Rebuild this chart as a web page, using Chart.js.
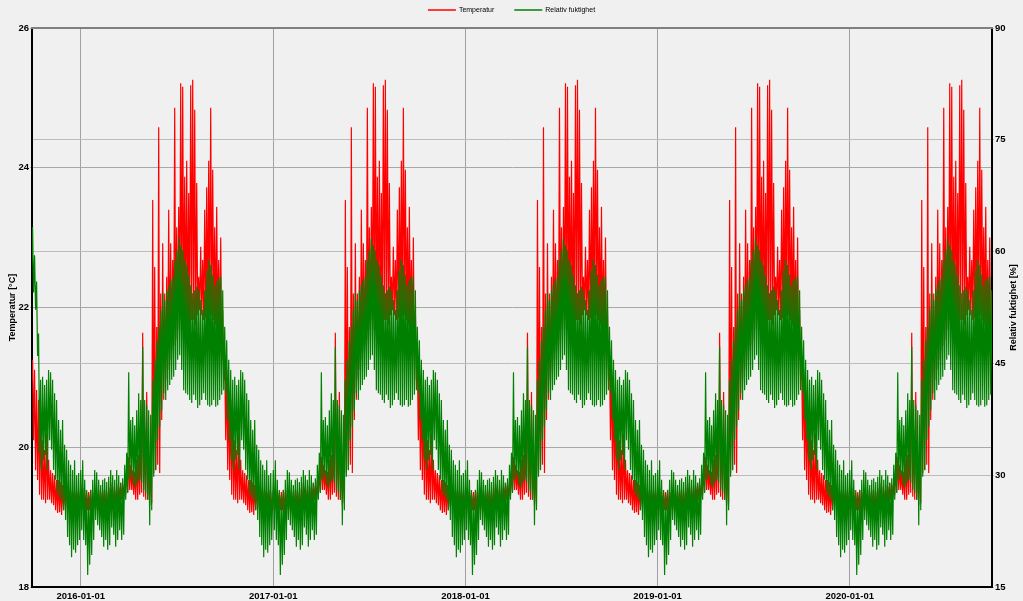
<!DOCTYPE html>
<html><head><meta charset="utf-8">
<script src="https://cdn.jsdelivr.net/npm/chart.js@4.4.1/dist/chart.umd.min.js"></script>
<style>html,body{margin:0;padding:0;background:#f0f0f0;}#wrap{width:1023px;height:601px;position:relative;}</style>
</head><body><div id="wrap"><canvas id="c"></canvas></div>
<script>
const seriesNames = ['Temperatur', 'Relativ fuktighet'];
const axisTitles = ['Temperatur [°C]', 'Relativ fuktighet [%]'];
const xTickLabels = ['2016-01-01', '2017-01-01', '2018-01-01', '2019-01-01', '2020-01-01'];
const years = [2015, 2016, 2017, 2018, 2019, 2020];
const rangeStart = '2015-09-30T12:00:00Z';
const rangeEnd = '2020-09-27T07:00:00Z';
const tempRange = [18, 26], tempStep = 2;
const humRange = [15, 90], humStep = 15;
// readings repeat every year; one reading pair (upper / lower edge) about every 3.8 days from 1 Jan
const DAY_STEP = 1.9;
const tempUpper = [19.39,19.42,19.39,19.35,19.36,19.39,19.36,19.39,19.32,19.39,
 19.36,19.39,19.39,19.36,19.42,19.49,19.43,19.39,19.46,19.43,
 19.49,19.46,19.53,19.67,19.86,19.75,19.67,19.65,19.82,19.89,
 20.06,21.64,20.25,20.79,19.82,19.75,23.54,22.58,21.72,24.58,
 22.20,22.92,22.20,22.44,23.40,22.92,22.68,24.86,23.15,23.44,
 25.21,25.16,23.87,24.10,23.64,25.18,25.26,24.83,23.78,22.44,
 22.87,22.68,23.40,23.72,24.10,24.86,23.97,23.15,23.44,22.68,
 23.00,21.96,21.25,21.11,20.82,20.68,20.53,20.10,19.96,20.20,
 19.82,19.67,19.63,19.60,19.53,19.53,19.50,19.46,19.43,19.46,
 19.42,19.39,19.39,19.36,19.39,19.36];
const tempLower = [19.10,19.07,19.13,19.10,19.10,19.07,19.13,19.10,19.10,19.07,
 19.10,19.13,19.07,19.06,19.10,19.25,19.17,19.14,19.17,19.25,
 19.25,19.29,19.32,19.36,19.39,19.39,19.32,19.25,19.25,19.32,
 19.35,19.29,19.25,19.25,19.17,19.20,19.63,19.67,19.75,19.63,
 20.39,20.68,20.96,21.11,21.25,21.39,21.46,21.53,21.68,21.82,
 21.68,21.82,21.89,21.82,21.75,21.82,21.82,21.75,21.89,21.96,
 21.89,21.82,21.85,21.82,21.89,21.89,21.82,21.75,21.68,21.53,
 21.25,20.96,20.10,19.67,19.53,19.32,19.25,19.25,19.20,19.25,
 19.25,19.20,19.17,19.10,19.06,19.07,19.03,19.10,19.14,19.17,
 19.13,19.17,19.17,19.16,19.17,19.13];
const humUpper = [30.7,32.0,29.4,28.0,27.3,28.0,29.4,30.7,30.4,29.4,
 28.7,29.4,29.6,29.1,29.8,30.7,30.0,29.4,30.7,30.0,
 29.0,29.6,31.4,33.0,43.8,37.4,37.8,36.7,38.7,41.0,
 40.1,47.2,40.1,39.4,38.7,38.1,42.8,45.5,48.1,49.9,
 52.2,54.4,53.5,54.8,55.5,56.2,56.6,58.9,60.2,61.8,
 60.9,60.2,58.9,58.2,56.9,55.5,54.4,54.8,55.3,54.8,
 53.5,52.2,54.8,57.5,58.9,58.2,56.9,55.5,56.2,56.6,
 56.6,54.8,49.9,48.1,45.5,44.1,42.8,43.2,42.1,42.8,
 44.1,43.8,42.8,41.0,40.1,37.4,36.1,37.4,34.1,33.4,
 32.0,31.4,30.7,32.0,30.0,30.3];
const humLower = [22.6,21.3,20.6,16.6,18.0,19.3,21.3,24.0,23.3,22.6,
 21.7,20.4,21.3,20.0,20.6,23.0,22.0,20.4,21.3,22.6,
 21.3,22.0,26.7,27.6,29.4,29.8,28.7,28.4,29.0,29.4,
 29.0,28.0,27.6,26.7,23.3,25.3,29.8,30.7,34.7,36.5,
 38.7,41.0,40.1,41.4,42.1,42.8,43.2,44.1,45.5,46.1,
 44.1,41.4,41.0,40.8,40.1,39.7,40.8,40.1,39.0,39.4,
 40.1,41.0,40.1,39.4,39.2,39.4,40.1,39.2,39.4,40.1,
 40.8,41.4,41.0,37.4,34.7,32.0,30.7,32.0,32.7,30.7,
 34.7,33.4,30.7,29.4,27.6,27.1,26.7,25.3,24.0,21.7,
 20.6,19.0,20.0,19.6,20.6,21.3];
// the first readings (autumn 2015) were more humid than later years
const firstYear = 2015, firstCol = 71;
const firstHumUpper = [63.5, 63.3, 59.5, 56.0, 49.0];
const firstHumLower = [58.0, 54.5, 52.2, 46.0, 33.0];

const DAY = 864e5;
const t0 = Date.parse(xTickLabels[0]);
const xMin = (Date.parse(rangeStart) - t0) / DAY;
const xMax = (Date.parse(rangeEnd) - t0) / DAY;
const tickDays = xTickLabels.map(s => (Date.parse(s) - t0) / DAY);

function build(upper, lower, fixUpper, fixLower) {
  const pts = [];
  years.forEach(y => {
    const base = (Date.UTC(y, 0, 1) - t0) / DAY;
    for (let c = 0; c < upper.length; c++) {
      let u = upper[c], l = lower[c];
      if (fixUpper && y === firstYear && c >= firstCol && c < firstCol + fixUpper.length) {
        u = fixUpper[c - firstCol]; l = fixLower[c - firstCol];
      }
      const a = base + 2 * c * DAY_STEP, b = base + (2 * c + 1) * DAY_STEP;
      if (a >= xMin - 4 && a <= xMax + 4) pts.push({x: a, y: u});
      if (b >= xMin - 4 && b <= xMax + 4) pts.push({x: b, y: l});
    }
  });
  return pts;
}

const FONT = '"Liberation Sans", Arial, sans-serif';
const tickFont = {family: FONT, size: 9.5, weight: 'bold'};

const decor = {
  id: 'decor',
  afterDraw(chart) {
    const {ctx, chartArea: a} = chart;
    ctx.save();
    ctx.strokeStyle = '#808080'; ctx.lineWidth = 2;
    ctx.beginPath(); ctx.moveTo(a.left - 1, a.top); ctx.lineTo(a.right + 1, a.top); ctx.stroke();
    ctx.fillStyle = '#000';
    ctx.font = 'bold 9px ' + FONT;
    ctx.textAlign = 'center'; ctx.textBaseline = 'middle';
    const cy = (a.top + a.bottom) / 2;
    ctx.save(); ctx.translate(13, cy); ctx.rotate(-Math.PI / 2); ctx.fillText(axisTitles[0], 0, 0); ctx.restore();
    ctx.save(); ctx.translate(1013.5, cy); ctx.rotate(-Math.PI / 2); ctx.fillText(axisTitles[1], 0, 0); ctx.restore();
    ctx.font = '7px ' + FONT;
    ctx.textAlign = 'left';
    const colors = chart.data.datasets.map(d => d.borderColor);
    const widths = seriesNames.map(n => ctx.measureText(n).width);
    const total = widths.reduce((s, w) => s + 28 + 3 + w, 0) + 20;
    let x = chart.width / 2 - total / 2;
    const ly = 10;
    seriesNames.forEach((n, i) => {
      ctx.strokeStyle = colors[i]; ctx.lineWidth = 1.5;
      ctx.beginPath(); ctx.moveTo(x, ly); ctx.lineTo(x + 28, ly); ctx.stroke();
      ctx.fillStyle = '#000';
      ctx.fillText(n, x + 31, ly);
      x += 28 + 3 + widths[i] + 20;
    });
    ctx.restore();
  }
};

new Chart(document.getElementById('c'), {
  type: 'line',
  data: {
    datasets: [
      {label: seriesNames[0], data: build(tempUpper, tempLower), yAxisID: 'y', borderColor: '#ff0000', borderWidth: 1.2, pointRadius: 0, order: 1, parsing: false},
      {label: seriesNames[1], data: build(humUpper, humLower, firstHumUpper, firstHumLower), yAxisID: 'y1', borderColor: '#008000', borderWidth: 1.2, pointRadius: 0, order: 0, parsing: false}
    ]
  },
  options: {
    responsive: true, maintainAspectRatio: false, animation: false, devicePixelRatio: 1,
    layout: {padding: {top: 28, left: 0, right: 0, bottom: 0}},
    plugins: {legend: {display: false}, tooltip: {enabled: false}},
    elements: {line: {tension: 0}},
    scales: {
      x: {
        type: 'linear', min: xMin, max: xMax,
        afterBuildTicks: s => { s.ticks = tickDays.map(v => ({value: v})); },
        afterFit: s => { s.height = 14; },
        grid: {color: '#a0a0a0', lineWidth: 1, drawTicks: false},
        border: {color: '#000', width: 2},
        ticks: {autoSkip: false, maxRotation: 0, padding: 4, color: '#000', font: tickFont,
          callback: v => { const i = tickDays.indexOf(v); return i >= 0 ? xTickLabels[i] : ''; }}
      },
      y: {
        position: 'left', min: tempRange[0], max: tempRange[1],
        afterFit: s => { s.width = 32; },
        grid: {color: '#a8a8a8', lineWidth: 1, tickLength: 2},
        border: {color: '#000', width: 2},
        ticks: {stepSize: tempStep, padding: 1, color: '#000', font: tickFont}
      },
      y1: {
        position: 'right', min: humRange[0], max: humRange[1],
        afterFit: s => { s.width = 31; },
        grid: {color: '#bcbcbc', lineWidth: 1, tickLength: 2},
        border: {color: '#000', width: 2},
        ticks: {stepSize: humStep, padding: 1, color: '#000', font: tickFont}
      }
    }
  },
  plugins: [decor]
});
</script>
</body></html>
